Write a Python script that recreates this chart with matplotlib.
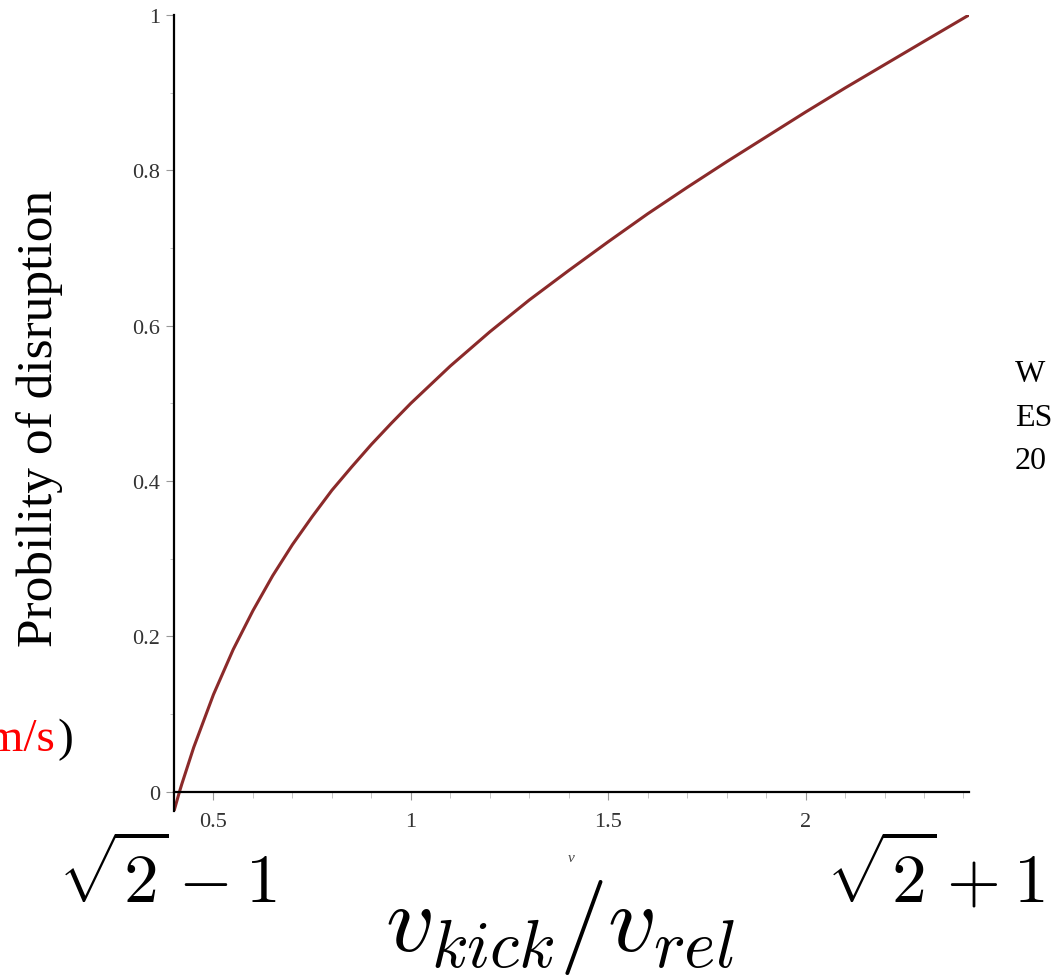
import matplotlib.pyplot as plt
from matplotlib.ticker import MultipleLocator

# kick / relative velocity ratio and probability of disruption
v = [0.40, 0.414, 0.42, 0.45, 0.50, 0.55, 0.60, 0.65, 0.70, 0.75, 0.80, 0.85, 0.90, 0.95,
     1.00, 1.10, 1.20, 1.30, 1.40, 1.50, 1.60, 1.70, 1.80, 1.90, 2.00, 2.10, 2.20, 2.30, 2.414]
prob = [-0.025, 0.0, 0.010, 0.057, 0.125, 0.183, 0.233, 0.278, 0.318, 0.354, 0.388, 0.418, 0.447, 0.474,
        0.500, 0.548, 0.592, 0.633, 0.671, 0.708, 0.744, 0.778, 0.811, 0.843, 0.875, 0.906, 0.936, 0.966, 1.0]

x_ticks = [0.5, 1, 1.5, 2]
x_ticklabels = ["0.5", "1", "1.5", "2"]
y_ticks = [0, 0.2, 0.4, 0.6, 0.8, 1]
y_ticklabels = ["0", "0.2", "0.4", "0.6", "0.8", "1"]

serif = "Liberation Serif"
plt.rcParams["mathtext.fontset"] = "cm"

W, H = 1052, 978
fig = plt.figure(figsize=(W / 100, H / 100), dpi=100)
ax = fig.add_axes([174 / W, 1 - 812 / H, (969 - 174) / W, (812 - 16) / H])

ax.plot(v, prob, color="#8b2a2a", lw=2.2)
ax.set_xlim(0.4, 2.414)
ax.set_ylim(-0.025, 1.0)

# Maple-style axes: x axis at y=0, y axis on the left edge
for s in ["top", "right"]:
    ax.spines[s].set_visible(False)
ax.spines["bottom"].set_position(("data", 0))
ax.spines["bottom"].set_linewidth(1.6)
ax.spines["left"].set_linewidth(1.6)

ax.set_xticks(x_ticks)
ax.set_xticklabels(x_ticklabels, fontfamily=serif, fontsize=16, color="#333333")
ax.set_yticks(y_ticks)
ax.set_yticklabels(y_ticklabels, fontfamily=serif, fontsize=16, color="#333333")
ax.xaxis.set_minor_locator(MultipleLocator(0.1))
ax.yaxis.set_minor_locator(MultipleLocator(0.1))
ax.tick_params(axis="x", which="major", length=6, color="#999999", pad=9)
ax.tick_params(axis="x", which="minor", length=4, color="#bbbbbb")
ax.tick_params(axis="y", which="major", length=6, color="#999999", pad=4)
ax.tick_params(axis="y", which="minor", length=3, color="#bbbbbb")
ax.set_xlabel("v", fontfamily=serif, fontstyle="italic", fontsize=11, color="#444444")
ax.xaxis.set_label_coords(0.5, -0.05)

# overlaid annotations
fig.text(40 / W, 1 - 418 / H, "Probility of disruption", rotation=90, fontfamily=serif,
         fontsize=37, ha="center", va="center")
fig.text(55 / W, 1 - 740 / H, "km/s", color="red", fontfamily=serif, fontsize=34,
         ha="right", va="center")
fig.text(57 / W, 1 - 740 / H, ")", fontfamily=serif, fontsize=34, ha="left", va="center")
for txt, yy in [("W", 375), ("ES", 418), ("20", 462)]:
    fig.text(1015 / W, 1 - yy / H, txt, fontfamily=serif, fontsize=23, ha="left", va="center")

fig.text(167 / W, 1 - 903 / H, r"$\sqrt{2}-1$", fontsize=50, ha="center", va="baseline")
fig.text(935 / W, 1 - 903 / H, r"$\sqrt{2}+1$", fontsize=50, ha="center", va="baseline")
fig.text(560 / W, 1 - 928 / H, r"$v_{kick}/v_{rel}$", fontsize=69, ha="center", va="center")

fig.savefig("out.png", dpi=100)
